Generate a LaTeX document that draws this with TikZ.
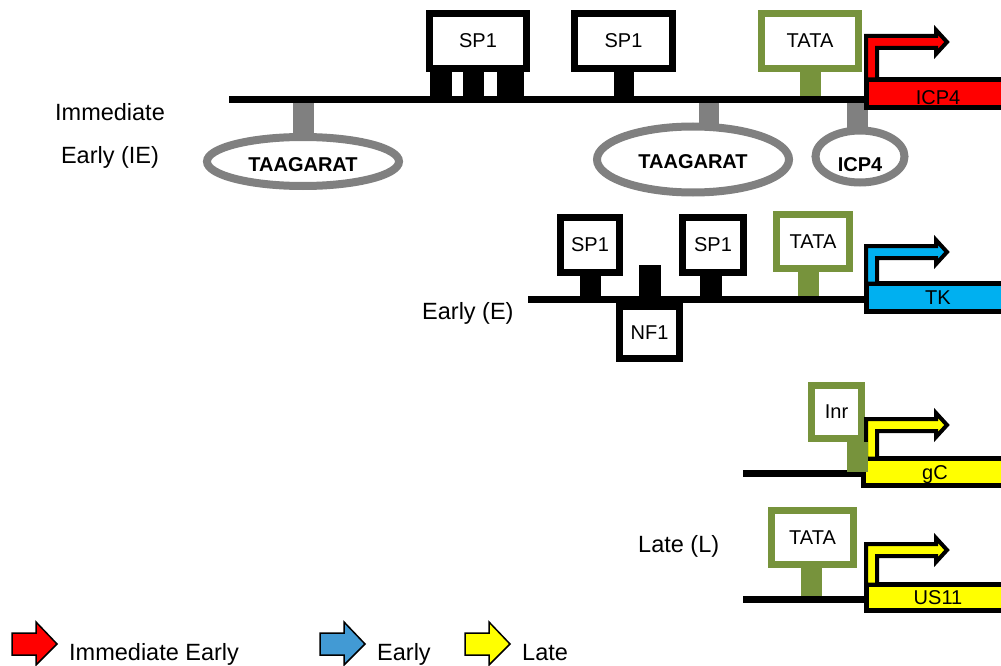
\documentclass[tikz,border=0pt]{standalone}
\usepackage{fontspec}
\setmainfont{Liberation Sans}
\usetikzlibrary{shapes.geometric}
\definecolor{tgreen}{RGB}{119,147,60}
\definecolor{tgrey}{RGB}{128,128,128}
\definecolor{tkblue}{RGB}{0,176,240}
\definecolor{legblue}{RGB}{66,154,212}
\definecolor{gred}{RGB}{255,0,0}
\definecolor{gyellow}{RGB}{255,255,0}
\newcommand\promarrow[3]{%
  \draw[line width=4pt, draw=black, fill=#1, line join=miter]
    (866,#3) -- (866,#2-6) -- (936,#2-6) -- (936,#2-12) -- (947,#2)
    -- (936,#2+12) -- (936,#2+6) -- (877,#2+6) -- (877,#3) -- cycle;}
\newcommand\legarrow[2]{%
  \draw[line width=1.5pt, draw=black, fill=#1, line join=miter]
    (#2,633) -- (#2+24,633) -- (#2+24,622) -- (#2+45,644) -- (#2+24,665)
    -- (#2+24,655) -- (#2,655) -- cycle;}
\begin{document}
\begin{tikzpicture}[x=1pt,y=-1pt,
  dna/.style={line width=7pt, draw=black},
  bbox/.style={draw=black, line width=7pt, fill=white, inner sep=0pt,
    font=\fontsize{20}{24}\selectfont},
  gbox/.style={bbox, draw=tgreen},
  bstem/.style={draw=black, line width=#1},
  gstem/.style={draw=tgreen, line width=#1},
  rstem/.style={draw=tgrey, line width=#1},
  site/.style={ellipse, draw=tgrey, line width=8pt, fill=white, inner sep=0pt,
    font=\fontsize{20}{24}\selectfont\bfseries},
  gene/.style={rectangle, draw=black, line width=5pt, inner sep=0pt,
    minimum width=143, font=\fontsize{20}{24}\selectfont},
  lab/.style={font=\fontsize{23.5}{28}\selectfont, inner sep=0pt},
]
\useasboundingbox (0,0) rectangle (1001,666);

% ---------------- Immediate Early ----------------
\coordinate (ie-l) at (229,100);
\coordinate (ie-r) at (866,100);
\node[bbox, minimum width=97, minimum height=55] (sp1a) at (478,41) {SP1};
\node[bbox, minimum width=98, minimum height=55] (sp1b) at (623.5,41) {SP1};
\node[gbox, minimum width=97, minimum height=55] (tata1) at (810,41) {TATA};
\node[site, minimum width=192, minimum height=49, text height=19.3pt, text depth=0pt] (ta1) at (303,161.5) {TAAGARAT};
\node[site, minimum width=192, minimum height=66, text height=18.3pt, text depth=0pt] (ta2) at (693,159.5) {TAAGARAT};
\node[site, minimum width=89, minimum height=52, text height=30.3pt, text depth=0pt] (icp4s) at (860,156.5) {ICP4};

\foreach \dx/\w in {-37/22, -4.5/21, 32.5/27}
  \draw[bstem=\w pt] ([xshift=\dx pt]sp1a.south) -- ([xshift=\dx pt]sp1a.south |- ie-l);
\draw[bstem=20pt] (sp1b.south) -- (sp1b.south |- ie-l);
\draw[gstem=21pt] (tata1.south) -- (tata1.south |- ie-l);
\draw[rstem=21pt] ([yshift=-6pt]ta1.north) -- (ta1.north |- ie-l);
\draw[rstem=20pt] ([xshift=16pt,yshift=-6pt]ta2.north) -- ([xshift=16pt]ta2.north |- ie-l);
\draw[rstem=21pt] ([xshift=-2.5pt,yshift=-6pt]icp4s.north) -- ([xshift=-2.5pt]icp4s.north |- ie-l);
\draw[dna] (ie-l) -- (ie-r);
\node[gene, fill=gred, minimum height=28, text height=21.3pt, text depth=0pt] (icp4bar) at (938,93.5) {ICP4};
\promarrow{gred}{42}{79.5}

\node[lab, anchor=base] (lie1) at (110,120.5) {Immediate};
\node[lab, anchor=base] (lie2) at (110,163) {Early (IE)};

% ---------------- Early ----------------
\coordinate (e-l) at (528,299);
\coordinate (e-r) at (866,299);
\node[bbox, minimum width=59, minimum height=55] (sp1c) at (590,245) {SP1};
\node[bbox, minimum width=61, minimum height=55] (sp1d) at (713,245) {SP1};
\node[bbox, minimum width=60, minimum height=52] (nf1) at (649.5,332.5) {NF1};
\node[gbox, minimum width=73, minimum height=54] (tata2) at (813,241.5) {TATA};
\draw[bstem=21pt] (sp1c.south) -- (sp1c.south |- e-l);
\draw[bstem=22pt] ([xshift=-2pt]sp1d.south) -- ([xshift=-2pt]sp1d.south |- e-l);
\draw[bstem=22pt] (nf1.north) -- ++(0,-38);
\draw[gstem=21pt] ([xshift=-4.5pt]tata2.south) -- ([xshift=-4.5pt]tata2.south |- e-l);
\draw[dna] (e-l) -- (e-r);
\node[gene, fill=tkblue, minimum height=28, text height=14.3pt, text depth=0pt] (tkbar) at (938,297.5) {TK};
\promarrow{tkblue}{252}{283.5}
\node[lab, anchor=base west] (le) at (422,319) {Early (E)};

% ---------------- Late ----------------
\coordinate (g-l) at (743,473);
\coordinate (g-r) at (866,473);
\node[gbox, minimum width=50, minimum height=53] (inr) at (836.5,412) {Inr};
\draw[dna] (g-l) -- (g-r);
\node[gene, fill=gyellow, minimum height=27, text height=15.3pt, text depth=0pt] (gcbar) at (935,472) {gC};
\promarrow{gyellow}{425}{458.5}
\draw[gstem=21pt] ([xshift=21pt]inr.south) -- ++(0,30);

\coordinate (u-l) at (743,599);
\coordinate (u-r) at (866,599);
\node[gbox, minimum width=82, minimum height=54] (tata3) at (812.5,537.5) {TATA};
\draw[gstem=21pt] ([xshift=-1pt]tata3.south) -- ([xshift=-1pt]tata3.south |- u-l);
\draw[dna] (u-l) -- (u-r);
\node[gene, fill=gyellow, minimum height=26, text height=14.3pt, text depth=0pt] (usbar) at (938,597.5) {US11};
\promarrow{gyellow}{550}{584.5}
\node[lab, anchor=base west] (ll) at (638,552) {Late (L)};

% ---------------- Legend ----------------
\legarrow{gred}{12}
\node[lab, anchor=base west] (leg1) at (69,660) {Immediate Early};
\legarrow{legblue}{320}
\node[lab, anchor=base west] (leg2) at (377,660) {Early};
\legarrow{gyellow}{465}
\node[lab, anchor=base west] (leg3) at (522,660) {Late};
\end{tikzpicture}
\end{document}
